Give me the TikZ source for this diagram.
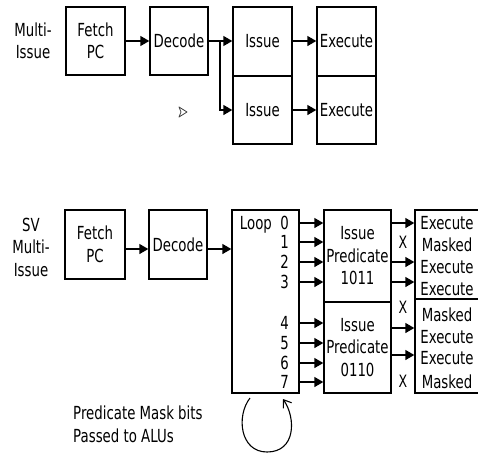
\documentclass[tikz,border=0pt]{standalone}
\usepackage{fontspec}
\setmainfont{DejaVu Sans}[FakeStretch=0.74]
\usetikzlibrary{arrows.meta}
\newcommand\figfont{\fontsize{18}{22.5}\selectfont}
\newcommand\xfont{\fontsize{17}{18}\selectfont}
\begin{document}
\begin{tikzpicture}[x=1pt,y=-1pt,
  box/.style={draw, line width=1.4pt, inner sep=0pt, align=center, font=\figfont},
  lbl/.style={inner sep=0pt, align=center, font=\figfont},
  xmark/.style={inner sep=0pt, font=\xfont},
  arr/.style={line width=1.4pt, -{Triangle[length=9pt,width=10pt]}},
  plain/.style={line width=1.4pt},
  loopline/.style={line width=1.1pt, -{Straight Barb[length=7pt,width=10pt]}}]
\useasboundingbox (0,0) rectangle (478,453);
\clip (0,0) rectangle (478,453);

% ---------- top: Multi-Issue ----------
\node[lbl] (lab1) at (33,41) {Multi-\\Issue};
\node[box, minimum width=59pt, minimum height=68pt] (fetch1) at (95.5,41) {Fetch\\PC};
\node[box, minimum width=58pt, minimum height=68pt] (dec1) at (179,41) {Decode};
\node[box, minimum width=59pt, minimum height=69pt] (iss1a) at (262.5,41.5) {Issue};
\node[box, minimum width=59pt, minimum height=68pt] (iss1b) at (262.5,110) {Issue};
\node[box, minimum width=59pt, minimum height=69pt] (exe1a) at (346.5,41.5) {Execute};
\node[box, minimum width=59pt, minimum height=68pt] (exe1b) at (346.5,110) {Execute};

\draw[arr] (fetch1.east |- dec1) -- (dec1.west);
\draw[arr] (dec1.east) -- (iss1a.west |- dec1);
\coordinate (br1) at (220,41);
\draw[arr] (br1) |- (iss1b.west);
\draw[arr] (iss1a.east |- dec1) -- (exe1a.west |- dec1);
\draw[arr] (iss1b.east) -- (exe1b.west);

% stray small open arrowhead
\draw[black!75, line width=0.8pt, line join=round] (179,107) -- (187,112) -- (179,117) -- (181,112) -- cycle;

% ---------- bottom: SV Multi-Issue ----------
\node[lbl] (lab2) at (31,247) {SV\\Multi-\\Issue};
\node[box, minimum width=60pt, minimum height=69pt] (fetch2) at (95,244.5) {Fetch\\PC};
\node[box, minimum width=58pt, minimum height=69pt] (dec2) at (178,244.5) {Decode};
\node[box, minimum width=67pt, minimum height=183pt] (loop) at (265.5,301.5) {};
\node[box, minimum width=67pt, minimum height=92pt] (ip1) at (357.5,256) {Issue\\Predicate\\1011};
\node[box, minimum width=67pt, minimum height=91pt] (ip2) at (357.5,347.5) {Issue\\Predicate\\0110};
\node[box, minimum width=75pt, minimum height=89pt] (ex2a) at (452.5,254.5) {};
\node[box, minimum width=75pt, minimum height=94pt] (ex2b) at (452.5,346) {};

\coordinate (lev) at (0,249);
\draw[arr] (fetch2.east |- lev) -- (dec2.west |- lev);
\draw[arr] (dec2.east |- lev) -- (loop.west |- lev);

% loop element numbers
\node[lbl, anchor=east] (n0) at (289,223) {0};
\node[lbl, anchor=base east] (lp) at ([xshift=-8pt]n0.base west) {Loop};
\node[lbl, anchor=east] (n1) at (289,242) {1};
\node[lbl, anchor=east] (n2) at (289,262) {2};
\node[lbl, anchor=east] (n3) at (289,282) {3};
\node[lbl, anchor=east] (n4) at (289,323) {4};
\node[lbl, anchor=east] (n5) at (289,343) {5};
\node[lbl, anchor=east] (n6) at (289,363) {6};
\node[lbl, anchor=east] (n7) at (289,382) {7};

\foreach \i in {0,1,2,3}{\draw[arr] (loop.east |- n\i) -- (ip1.west |- n\i);}
\foreach \i in {4,5,6,7}{\draw[arr] (loop.east |- n\i) -- (ip2.west |- n\i);}

% execute / masked labels
\node[lbl] (r1) at (447,223) {Execute};
\node[lbl] (r2) at (447,245) {Masked};
\node[lbl] (r3) at (447,267) {Execute};
\node[lbl] (r4) at (447,289) {Execute};
\node[lbl] (r5) at (447,315) {Masked};
\node[lbl] (r6) at (447,337) {Execute};
\node[lbl] (r7) at (447,358) {Execute};
\node[lbl] (r8) at (447,382) {Masked};

\coordinate (o1) at (0,223);
\coordinate (o2) at (0,262);
\coordinate (o3) at (0,282);
\coordinate (o4) at (0,328);
\coordinate (o5) at (0,355);
\draw[arr] (ip1.east |- o1) -- (ex2a.west |- o1);
\draw[arr] (ip1.east |- o2) -- (ex2a.west |- o2);
\draw[arr] (ip1.east |- o3) -- (ex2a.west |- o3);
\draw[arr] (ip2.east |- o4) -- (ex2b.west |- o4);
\draw[arr] (ip2.east |- o5) -- (ex2b.west |- o5);

\node[xmark] (x1) at (403,242) {X};
\node[xmark] (x2) at (403,307) {X};
\node[xmark] (x3) at (403,381) {X};

% loop-back arc
\coordinate (ls) at (250,398);
\coordinate (le) at (283,399);
\draw[loopline] (ls) .. controls (236,416) and (240,452) .. (267,452)
                     .. controls (296,452) and (296,418) .. (le);

\node[lbl, anchor=west, align=left] (pm) at (73,424.5) {Predicate Mask bits\\Passed to ALUs};
\end{tikzpicture}
\end{document}
